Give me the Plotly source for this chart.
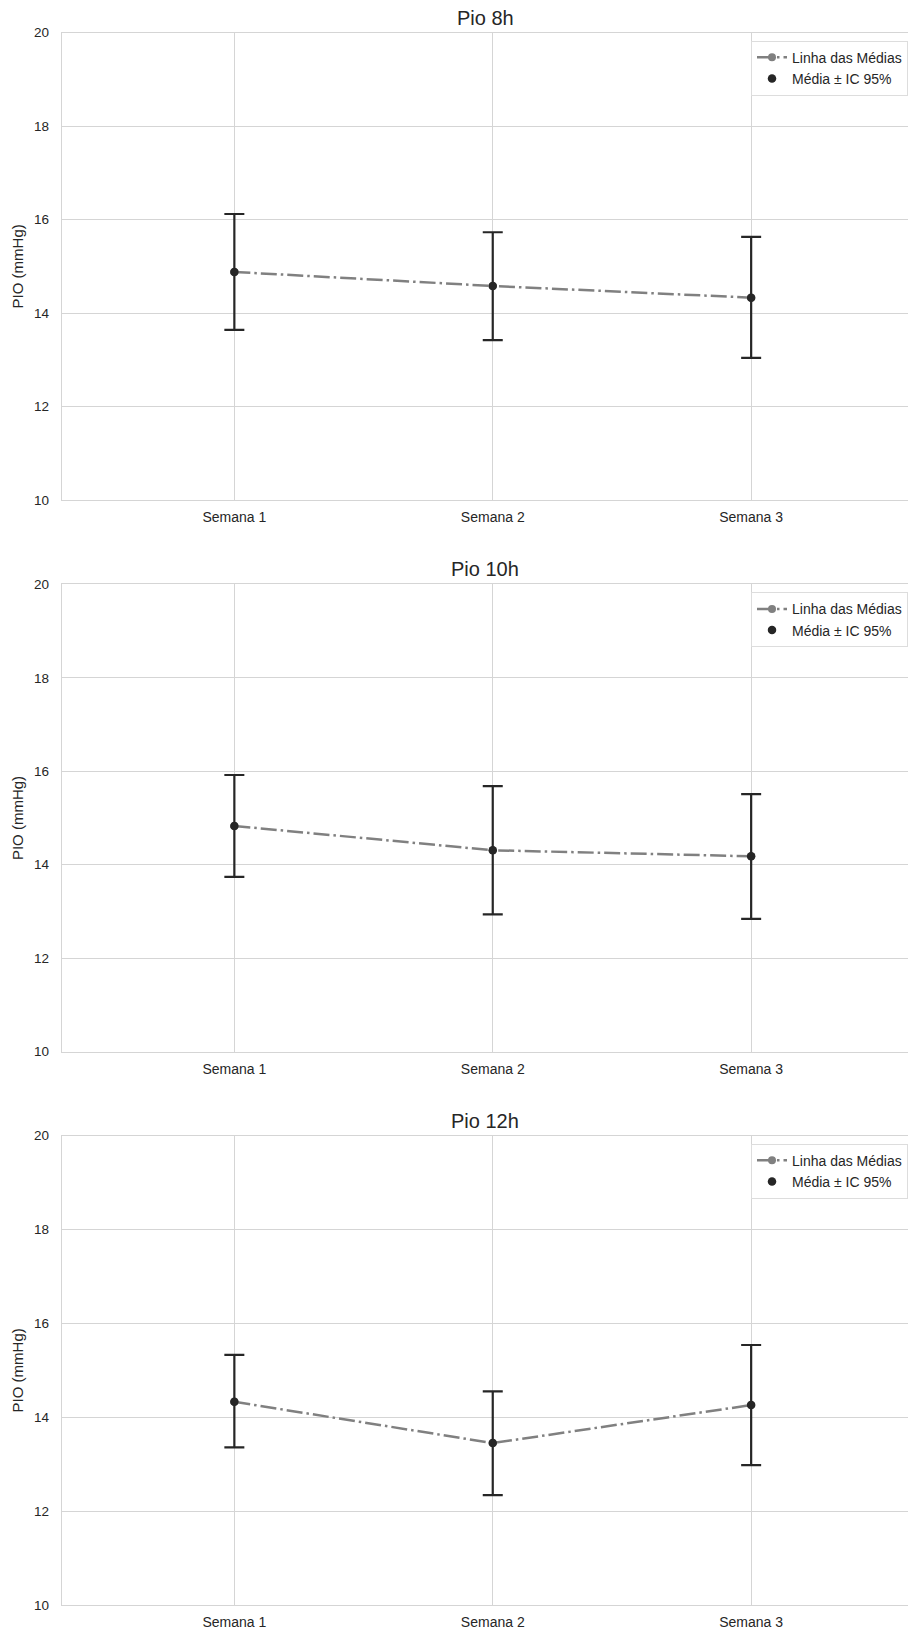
import plotly.graph_objects as go

categories = ["Semana 1", "Semana 2", "Semana 3"]
panel_titles = ["Pio 8h", "Pio 10h", "Pio 12h"]

means_8h = [14.88, 14.58, 14.33]
upper_8h = [16.12, 15.73, 15.63]
lower_8h = [13.64, 13.42, 13.04]

means_10h = [14.83, 14.31, 14.18]
upper_10h = [15.92, 15.68, 15.51]
lower_10h = [13.74, 12.94, 12.84]

means_12h = [14.33, 13.45, 14.26]
upper_12h = [15.33, 14.55, 15.54]
lower_12h = [13.36, 12.34, 12.98]

y_ticks = [10, 12, 14, 16, 18, 20]
y_label = "PIO (mmHg)"
line_name = "Linha das Médias"
err_name = "Média ± IC 95%"

# page body has an 8px margin; size the figure so it fits the window exactly
W, H = 900, 1632
tops = [24.7, 576.3, 1127.7]
bottoms = [492.0, 1043.7, 1597.0]

panels = [
    (means_8h, upper_8h, lower_8h),
    (means_10h, upper_10h, lower_10h),
    (means_12h, upper_12h, lower_12h),
]

TXT = "#262626"
GRID = "#d5d5d5"
FONT = "Liberation Sans, Arial, sans-serif"

fig = go.Figure()
layout_updates = {}
annotations = []

for i, (m, up, lo) in enumerate(panels):
    n = "" if i == 0 else str(i + 1)
    xa, ya = "x" + n, "y" + n
    leg = "legend" + n
    fig.add_trace(go.Scatter(
        x=categories, y=m, mode="lines+markers", name=line_name,
        line=dict(color="#808080", width=2.5, dash="16px,4px,2.5px,4px"),
        marker=dict(color="#808080", size=8),
        xaxis=xa, yaxis=ya, legend=leg, showlegend=True,
    ))
    fig.add_trace(go.Scatter(
        x=categories, y=m, mode="markers", name=err_name,
        marker=dict(color=TXT, size=8.5),
        error_y=dict(type="data", symmetric=False,
                     array=[u - v for u, v in zip(up, m)],
                     arrayminus=[v - l for v, l in zip(m, lo)],
                     color=TXT, thickness=2.2, width=10),
        xaxis=xa, yaxis=ya, legend=leg, showlegend=True,
    ))
    y0 = 1 - bottoms[i] / H
    y1 = 1 - tops[i] / H
    layout_updates["xaxis" + n] = dict(
        domain=[0, 1], anchor=ya, type="category",
        range=[-0.667, 2.607], automargin=False,
        showgrid=True, gridcolor=GRID, gridwidth=1,
        showline=True, mirror=True, linecolor=GRID, linewidth=1.3,
        ticks="outside", ticklen=4, tickcolor="rgba(0,0,0,0)",
        tickfont=dict(size=14, color=TXT, family=FONT),
        zeroline=False,
    )
    layout_updates["yaxis" + n] = dict(
        domain=[y0, y1], anchor=xa, automargin=False,
        range=[10, 20], tickvals=y_ticks,
        showgrid=True, gridcolor=GRID, gridwidth=1,
        showline=True, mirror=True, linecolor=GRID, linewidth=1.3,
        ticks="outside", ticklen=9, tickcolor="rgba(0,0,0,0)",
        tickfont=dict(size=13.5, color=TXT, family=FONT),
        title=dict(text=y_label, font=dict(size=15, color=TXT, family=FONT), standoff=6),
        zeroline=False,
    )
    layout_updates[leg] = dict(
        x=1.0, xanchor="right", y=1 - (tops[i] + 8) / H, yanchor="top",
        bgcolor="rgba(255,255,255,0.85)", bordercolor="#dddddd", borderwidth=1,
        font=dict(size=14, color=TXT, family=FONT), traceorder="normal",
        tracegroupgap=0,
    )
    annotations.append(dict(
        text=panel_titles[i], xref="paper", yref="paper",
        x=0.5, y=1 - (tops[i] - 15) / H, xanchor="center", yanchor="middle",
        showarrow=False, font=dict(size=20, color=TXT, family=FONT),
    ))

fig.update_layout(
    width=W, height=H,
    margin=dict(l=54, r=0, t=0, b=0, autoexpand=False),
    paper_bgcolor="white", plot_bgcolor="white",
    font=dict(family=FONT, color=TXT),
    annotations=annotations,
    **layout_updates,
)

fig.write_html("out.html")
